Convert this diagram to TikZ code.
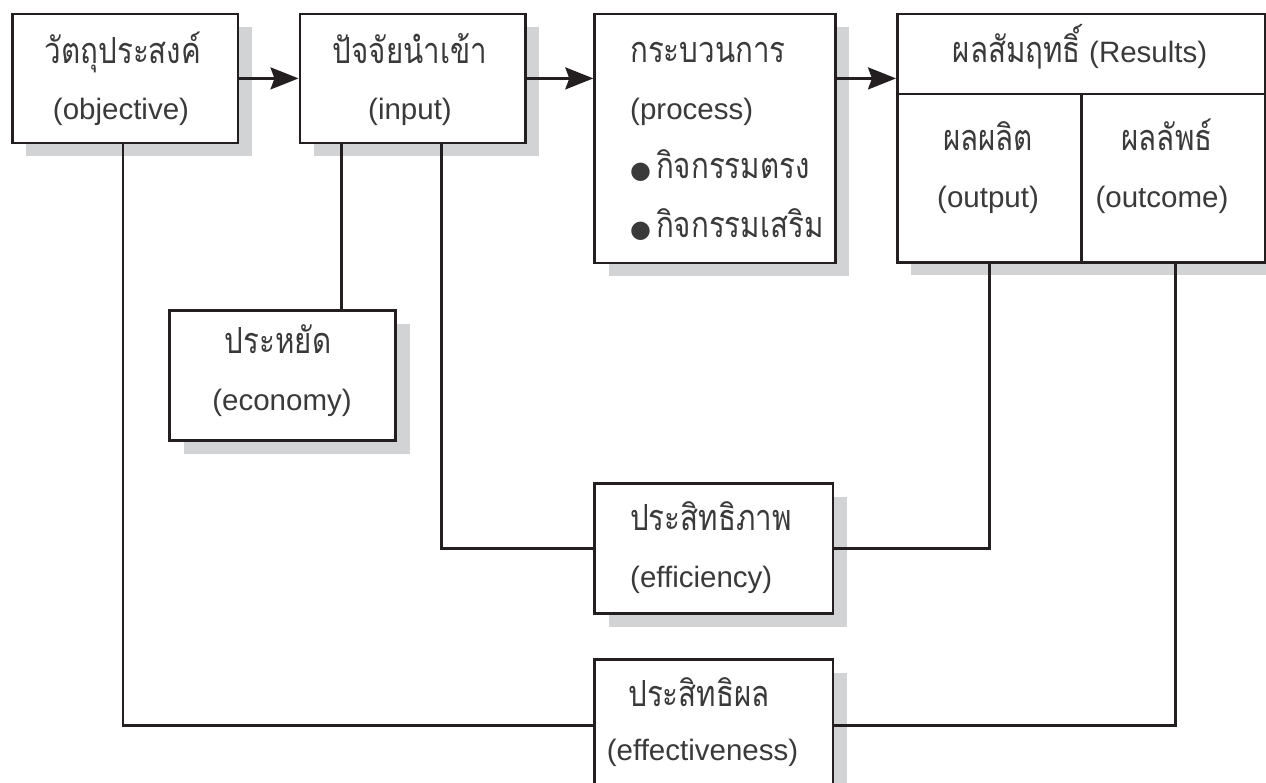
\documentclass[tikz,border=0pt]{standalone}
\usepackage{fontspec}
\setmainfont{Liberation Sans}
\newfontfamily\thaif[Script=Thai,FakeStretch=0.82]{Loma}
\newcommand\thai{\thaif\fontsize{36}{40}\selectfont}
\newfontfamily\sym{DejaVu Sans}
\usetikzlibrary{arrows.meta,calc,shadows}
\definecolor{ln}{HTML}{231F20}
\definecolor{sh}{HTML}{D1D3D4}
\definecolor{tx}{HTML}{3A3A3A}
\begin{document}
\begin{tikzpicture}[x=1pt,y=-1pt,
  box/.style={draw=ln,line width=2.6pt,fill=white,inner sep=0pt,anchor=north west,
    drop shadow={shadow xshift=14pt,shadow yshift=-13pt,fill=sh,opacity=1}},
  cell/.style={draw=ln,line width=2.6pt,inner sep=0pt,anchor=north west},
  txt/.style={anchor=base,inner sep=0pt,text=tx,font=\fontsize{29.5}{34}\selectfont},
  ltxt/.style={txt,anchor=base west},
  con/.style={draw=ln,line width=2.6pt},
  arr/.style={con,-{Stealth[length=28pt,width=22pt,inset=4pt]}}]
\fill[white] (0,0) rectangle (1266,782);
\useasboundingbox (0,0) rectangle (1266,782);
\clip (0,0) rectangle (1266,782);
% boxes
\node[box,minimum width=225.5pt,minimum height=129.2pt] (obj) at (11,12.5) {};
\node[box,minimum width=225.5pt,minimum height=129.2pt] (inp) at (298.5,12.5) {};
\node[box,minimum width=240.7pt,minimum height=249.2pt] (proc) at (593.3,12.5) {};
\node[box,minimum width=368pt,minimum height=248.5pt] (res) at (896,12.5) {};
\node[cell,minimum width=184pt,minimum height=168.3pt] (resL) at (896,92.7) {};
\node[cell,minimum width=184pt,minimum height=168.3pt] (resR) at (1080,92.7) {};
\node[box,minimum width=226pt,minimum height=130pt] (eco) at (168.3,309.3) {};
\node[box,minimum width=238.4pt,minimum height=130pt] (effi) at (593.3,482.3) {};
\node[box,minimum width=238.4pt,minimum height=132pt] (effe) at (593.3,658.3) {};
% texts
\node[txt] (objT) at (123,63) {\thai วัตถุประสงค์};
\node[txt] (objE) at (121,119) {(objective)};
\node[txt] (inpT) at (410,63) {\thai ปัจจัยนำเข้า};
\node[txt] (inpE) at (410,119) {(input)};
\node[ltxt] (procT) at (630,62) {\thai กระบวนการ};
\node[ltxt] (procE) at (630,119) {(process)};
\node[ltxt] (procA) at (630,178) {{\sym\fontsize{24}{28}\selectfont ●}\,{\thai กิจกรรมตรง}};
\node[ltxt] (procB) at (630,237) {{\sym\fontsize{24}{28}\selectfont ●}\,{\thai กิจกรรมเสริม}};
\node[txt] (resT) at (1080,62) {{\thai ผลสัมฤทธิ์} (Results)};
\node[txt] (resLT) at (988,150) {\thai ผลผลิต};
\node[txt] (resLE) at (988,207) {(output)};
\node[txt] (resRT) at (1167,150) {\thai ผลลัพธ์};
\node[txt] (resRE) at (1162,207) {(outcome)};
\node[txt] (ecoT) at (278,353) {\thai ประหยัด};
\node[txt] (ecoE) at (282,410.6) {(economy)};
\node[ltxt] (effiT) at (630,530) {\thai ประสิทธิภาพ};
\node[ltxt] (effiE) at (630,587) {(efficiency)};
\node[txt] (effeT) at (699,706.7) {\thai ประสิทธิผล};
\node[txt] (effeE) at (702.5,760.6) {(effectiveness)};
% connectors
\draw[arr] (obj.east) -- (inp.west);
\draw[arr] (inp.east) -- (inp.east -| proc.west);
\draw[arr] (inp.east -| proc.east) -- (inp.east -| res.west);
\draw[con] ([xshift=-2pt]obj.south) |- (effe.west);
\draw[con] ([xshift=43.2pt]inp.south west) -- ([xshift=43.2pt]inp.south west |- eco.north);
\draw[con] ([xshift=142.7pt]inp.south west) |- (effi.west);
\draw[con] (resL.south) |- (effi.east);
\draw[con] ([xshift=2pt]resR.south) |- (effe.east);
\end{tikzpicture}
\end{document}
